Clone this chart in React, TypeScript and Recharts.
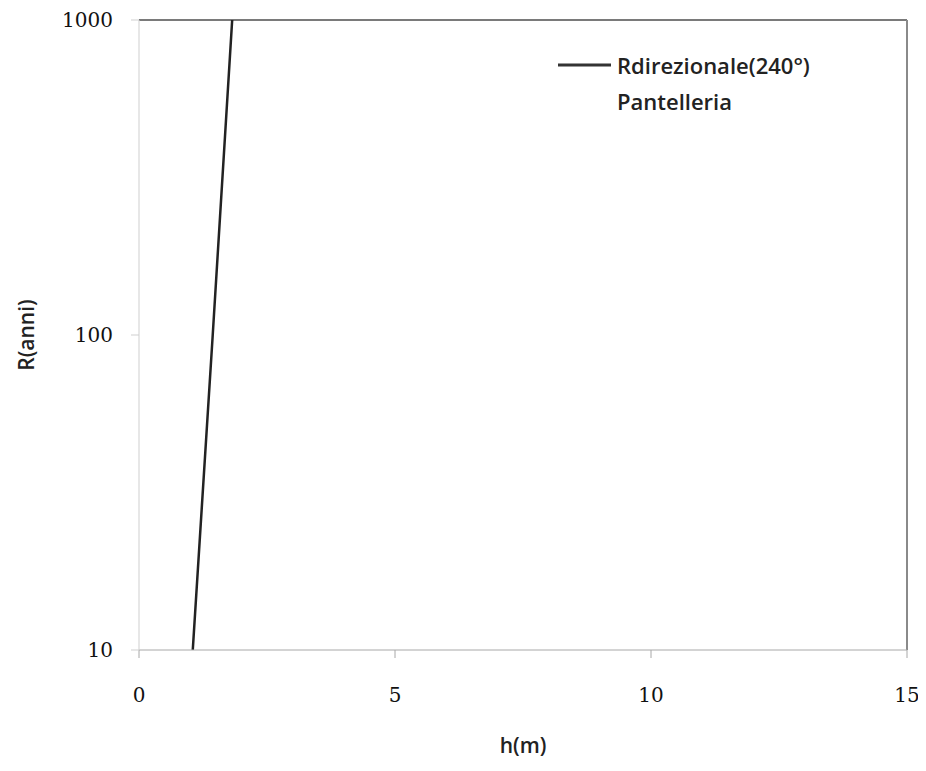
import { LineChart, Line, XAxis, YAxis, ReferenceLine } from 'recharts';

// h(m) at each return period R (anni)
const returnPeriods = [10, 100, 1000];
const waveHeights = [1.05, 1.44, 1.82];

const xTicks = [0, 5, 10, 15];
const yTicks = [10, 100, 1000];

const seriesName = 'Rdirezionale(240°)';
const seriesSubtitle = 'Pantelleria';

const data = returnPeriods.map((r, i) => ({ h: waveHeights[i], r }));

const FONT = '"Open Sans", sans-serif';
const NUM_FONT = '"DejaVu Serif", serif';
const TEXT = '#222';

function YTitle(props: any) {
  const { viewBox } = props;
  const cx = 18;
  const cy = viewBox.y + viewBox.height / 2;
  return (
    <text
      x={cx}
      y={cy}
      transform={`rotate(-90 ${cx} ${cy})`}
      textAnchor="middle"
      dominantBaseline="central"
      fontFamily={FONT}
      fontSize={21}
      fontWeight={600}
      fill={TEXT}
    >
      R(anni)
    </text>
  );
}

function XTitle(props: any) {
  const { viewBox } = props;
  return (
    <text
      x={viewBox.x + viewBox.width / 2}
      y={viewBox.y + 95}
      textAnchor="middle"
      dominantBaseline="central"
      fontFamily={FONT}
      fontSize={21}
      fontWeight={600}
      fill={TEXT}
    >
      h(m)
    </text>
  );
}

function LegendBox() {
  return (
    <svg
      width={330}
      height={80}
      style={{ position: 'absolute', left: 550, top: 40, display: 'block' }}
    >
      <line x1={0} y1={17} x2={53} y2={17} stroke="#333" strokeWidth={3} />
      <text x={59} y={17} dominantBaseline="central" fontFamily={FONT} fontSize={22} fontWeight={600} fill={TEXT}>
        {seriesName}
      </text>
      <text x={59} y={53} dominantBaseline="central" fontFamily={FONT} fontSize={22} fontWeight={600} fill={TEXT}>
        {seriesSubtitle}
      </text>
    </svg>
  );
}

export default function App() {
  return (
    <div style={{ position: 'relative', width: 918, height: 755 }}>
      <LineChart
        width={918}
        height={755}
        data={data}
        margin={{ top: 12, right: 19, left: 0, bottom: 0 }}
        style={{ background: '#fff' }}
      >
        <XAxis
          dataKey="h"
          type="number"
          domain={[0, 15]}
          ticks={xTicks}
          height={113}
          tickSize={8}
          tickMargin={30}
          stroke="#a8a8a8"
          tick={{ fontFamily: NUM_FONT, fontSize: 20, fill: '#111' }}
          label={<XTitle />}
        />
        <YAxis
          dataKey="r"
          type="number"
          scale="log"
          domain={[10, 1000]}
          ticks={yTicks}
          allowDataOverflow
          width={131}
          tickSize={8}
          tickMargin={18}
          stroke="#cfcfcf"
          tick={{ fontFamily: NUM_FONT, fontSize: 20, fill: '#111' }}
          label={<YTitle />}
        />
        <ReferenceLine y={1000} stroke="#7a7a7a" strokeWidth={2} />
        <ReferenceLine x={15} stroke="#8a8a8a" strokeWidth={2} />
        <Line
          type="linear"
          dataKey="r"
          name={seriesName}
          stroke="#222"
          strokeWidth={2.5}
          dot={false}
          isAnimationActive={false}
        />
      </LineChart>
      <LegendBox />
    </div>
  );
}
